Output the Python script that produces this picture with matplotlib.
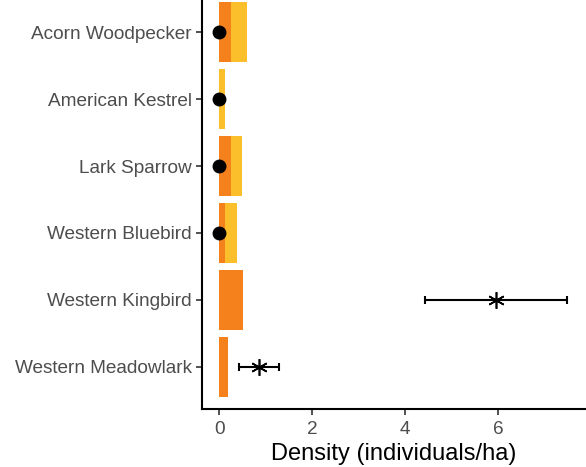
import matplotlib
matplotlib.use("Agg")
import matplotlib.pyplot as plt

species = ["Acorn Woodpecker", "American Kestrel", "Lark Sparrow",
           "Western Bluebird", "Western Kingbird", "Western Meadowlark"]
# bar lengths (density)
dark_vals = [0.25, 0.0, 0.24, 0.125, 0.51, 0.19]
light_vals = [0.585, 0.125, 0.485, 0.37, 0.0, 0.0]
# observed estimates
circle_vals = [0.0, 0.0, 0.0, 0.0]
star_species = ["Western Kingbird", "Western Meadowlark"]
star_vals = [5.97, 0.85]
star_lo = [4.43, 0.42]
star_hi = [7.5, 1.29]

plt.rcParams['font.family'] = ['Liberation Sans', 'DejaVu Sans']

fig = plt.figure(figsize=(5.86, 4.67), dpi=100)
ax = fig.add_axes([0.3447, 0.1242, 0.6553, 0.8758])

pos = {s: i for i, s in enumerate(species)}
y = list(range(len(species)))

ax.barh(y, light_vals, height=0.9, color="#FCBF2C", zorder=1)
ax.barh(y, dark_vals, height=0.9, color="#F4811B", zorder=2)

ax.plot(circle_vals, y[:len(circle_vals)], "o", color="black", markersize=9, zorder=4)

ys = [pos[s] for s in star_species]
xerr = [[v - lo for v, lo in zip(star_vals, star_lo)],
        [hi - v for v, hi in zip(star_vals, star_hi)]]
ax.errorbar(star_vals, ys, xerr=xerr, fmt="none", ecolor="black",
            elinewidth=1.5, capsize=3, capthick=1.5, zorder=3)
ax.plot(star_vals, ys, marker=(6, 2, 0), linestyle="none", color="black",
        markersize=12, markeredgewidth=1.2, zorder=4)

ax.set_yticks(y)
ax.set_yticklabels(species)
ax.set_xticks([0, 2, 4, 6])
ax.set_xlim(-0.377, 7.9)
ax.set_ylim(5.63, -0.48)

ax.set_xlabel("Density (individuals/ha)", fontsize=17, color="black", labelpad=3)
ax.tick_params(axis="both", colors="#333333", labelcolor="#4D4D4D",
               labelsize=13.7, length=4, width=1.2)
ax.tick_params(axis="x", pad=5)
for side in ["top", "right"]:
    ax.spines[side].set_visible(False)
for side in ["left", "bottom"]:
    ax.spines[side].set_linewidth(1.5)
    ax.spines[side].set_color("black")

fig.savefig("out.png", dpi=100)
